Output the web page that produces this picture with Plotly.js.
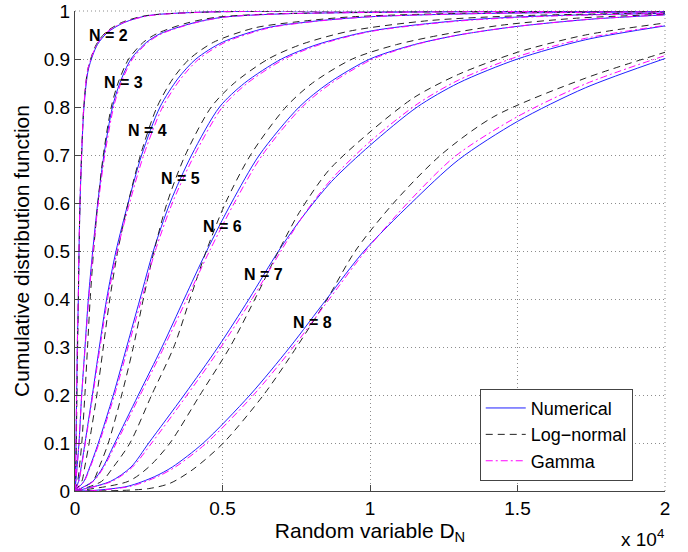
<!DOCTYPE html>
<html>
<head>
<meta charset="utf-8">
<script src="https://cdn.plot.ly/plotly-3.0.1.min.js"></script>
<style>html,body{margin:0;padding:0;background:#fff;}</style>
</head>
<body>
<div id="chart" style="width:688px;height:552px;"></div>
<script>
// ---- data: [x, F(x)] points per curve ----
const num2 = [[0,0],[20,0.05],[34,0.1],[56,0.2],[79,0.3],[113,0.4],[136,0.5],[170,0.6],[226,0.7],[305,0.8],[460,0.88],[760,0.93],[1100,0.955],[1630,0.975],[2430,0.99],[4000,0.997],[7000,1],[20000,1]];
const ln2  = [[0,0],[30,0.04],[45,0.1],[66,0.2],[88,0.3],[115,0.4],[138,0.5],[170,0.6],[222,0.7],[298,0.8],[440,0.88],[720,0.93],[1050,0.956],[1580,0.976],[2380,0.99],[4100,0.997],[8000,1],[20000,1]];
const gam2 = [[0,0],[18,0.05],[31,0.1],[53,0.2],[77,0.3],[110,0.4],[134,0.5],[168,0.6],[222,0.7],[298,0.8],[440,0.88],[740,0.93],[1080,0.956],[1650,0.976],[2500,0.99],[4100,0.997],[7000,1],[20000,1]];

const num3 = [[0,0],[30,0.02],[70,0.05],[136,0.1],[226,0.2],[339,0.3],[452,0.4],[600,0.5],[770,0.6],[980,0.7],[1270,0.8],[1520,0.85],[1900,0.9],[2430,0.935],[2900,0.953],[4000,0.975],[5000,0.987],[7000,0.994],[10000,0.997],[15000,0.999],[20000,1]];
const ln3  = [[0,0],[90,0.02],[150,0.05],[230,0.1],[335,0.2],[425,0.3],[515,0.4],[630,0.5],[775,0.6],[960,0.7],[1230,0.8],[1460,0.85],[1820,0.9],[2320,0.935],[2780,0.953],[3800,0.975],[4800,0.987],[6700,0.994],[9500,0.997],[14000,0.999],[20000,1]];
const gam3 = [[0,0],[28,0.02],[68,0.05],[134,0.1],[228,0.2],[345,0.3],[465,0.4],[615,0.5],[790,0.6],[1010,0.7],[1310,0.8],[1560,0.85],[1950,0.9],[2480,0.935],[2950,0.953],[4050,0.975],[5050,0.987],[7000,0.994],[10000,0.997],[15000,0.999],[20000,1]];

const num4 = [[0,0],[120,0.02],[210,0.05],[339,0.1],[588,0.2],[825,0.3],[1073,0.4],[1390,0.5],[1800,0.6],[2260,0.7],[2881,0.8],[3500,0.86],[4100,0.9],[5000,0.935],[6500,0.965],[8000,0.978],[10000,0.988],[14000,0.995],[20000,0.998]];
const ln4  = [[0,0],[230,0.02],[330,0.05],[480,0.1],[740,0.2],[960,0.3],[1180,0.4],[1450,0.5],[1800,0.6],[2220,0.7],[2780,0.8],[3330,0.86],[3880,0.9],[4700,0.935],[6100,0.965],[7600,0.978],[9400,0.988],[13000,0.995],[20000,0.999]];
const gam4 = [[0,0],[130,0.02],[220,0.05],[350,0.1],[605,0.2],[850,0.3],[1105,0.4],[1430,0.5],[1850,0.6],[2330,0.7],[2970,0.8],[3600,0.86],[4200,0.9],[5100,0.935],[6600,0.965],[8100,0.978],[10000,0.988],[14000,0.995],[20000,0.998]];

const num5 = [[0,0],[300,0.02],[500,0.05],[791,0.1],[1299,0.2],[1751,0.3],[2203,0.4],[2655,0.5],[3220,0.6],[3955,0.7],[4900,0.8],[5750,0.85],[7000,0.9],[8200,0.93],[10000,0.958],[13000,0.98],[16000,0.99],[20000,0.995]];
const ln5  = [[0,0],[600,0.02],[820,0.05],[1130,0.1],[1582,0.2],[1977,0.3],[2316,0.4],[2680,0.5],[3120,0.6],[3740,0.7],[4620,0.8],[5400,0.85],[6550,0.9],[7650,0.93],[9300,0.958],[12000,0.98],[15000,0.99],[20000,0.996]];
const gam5 = [[0,0],[310,0.02],[520,0.05],[820,0.1],[1340,0.2],[1800,0.3],[2260,0.4],[2720,0.5],[3300,0.6],[4050,0.7],[5000,0.8],[5850,0.85],[7100,0.9],[8300,0.93],[10000,0.957],[13000,0.979],[16000,0.989],[20000,0.995]];

const num6 = [[0,0],[600,0.02],[950,0.05],[1350,0.1],[2147,0.2],[2950,0.3],[3700,0.4],[4463,0.5],[5300,0.6],[6250,0.7],[7600,0.8],[8600,0.85],[10000,0.9],[11500,0.93],[13000,0.95],[15000,0.968],[17500,0.983],[20000,0.992]];
const ln6  = [[0,0],[900,0.02],[1300,0.05],[1864,0.1],[2599,0.2],[3350,0.3],[3898,0.4],[4450,0.5],[5100,0.6],[5950,0.7],[7150,0.8],[8050,0.85],[9400,0.9],[10900,0.93],[12400,0.95],[14400,0.97],[17000,0.985],[20000,0.993]];
const gam6 = [[0,0],[620,0.02],[980,0.05],[1400,0.1],[2210,0.2],[3020,0.3],[3790,0.4],[4560,0.5],[5400,0.6],[6350,0.7],[7700,0.8],[8700,0.85],[10100,0.9],[11550,0.93],[13000,0.95],[15000,0.968],[17500,0.983],[20000,0.992]];

const num7 = [[0,0],[1200,0.02],[1900,0.05],[2500,0.1],[3700,0.2],[4850,0.3],[5900,0.4],[6900,0.5],[7700,0.57],[8700,0.645],[10000,0.72],[11600,0.8],[13000,0.85],[15000,0.9],[17300,0.94],[20000,0.969]];
const ln7  = [[0,0],[1800,0.02],[2500,0.05],[3220,0.1],[4237,0.2],[5254,0.3],[6100,0.4],[6900,0.5],[7600,0.58],[8600,0.668],[10000,0.748],[11500,0.82],[13000,0.868],[15000,0.914],[17300,0.95],[20000,0.975]];
const gam7 = [[0,0],[1250,0.02],[1950,0.05],[2600,0.1],[3800,0.2],[4950,0.3],[6000,0.4],[6980,0.5],[7750,0.575],[8700,0.65],[10000,0.728],[11600,0.806],[13000,0.856],[15000,0.905],[17300,0.943],[20000,0.97]];

const num8 = [[0,0],[600,0.001],[1800,0.01],[2700,0.03],[3300,0.05],[4350,0.1],[5932,0.2],[7288,0.3],[8531,0.4],[9800,0.5],[11400,0.6],[13000,0.69],[15000,0.77],[17300,0.84],[20000,0.901]];
const ln8  = [[0,0],[1500,0.001],[2500,0.005],[3220,0.016],[4000,0.045],[5028,0.1],[6390,0.2],[7514,0.3],[8550,0.4],[9500,0.5],[10800,0.6],[12400,0.7],[14200,0.78],[17300,0.86],[20000,0.914]];
const gam8 = [[0,0],[700,0.001],[1900,0.01],[2800,0.03],[3400,0.05],[4460,0.1],[6050,0.2],[7400,0.3],[8620,0.4],[9850,0.5],[11350,0.605],[12900,0.698],[15000,0.78],[17300,0.848],[20000,0.907]];

const nValues = [2, 3, 4, 5, 6, 7, 8];
const numSeries = [num2, num3, num4, num5, num6, num7, num8];
const lnSeries  = [ln2, ln3, ln4, ln5, ln6, ln7, ln8];
const gamSeries = [gam2, gam3, gam4, gam5, gam6, gam7, gam8];
const seriesNames = ['Numerical', 'Log\u2212normal', 'Gamma'];

const xTickVals = [0, 5000, 10000, 15000, 20000];
const xTickText = ['0', '0.5', '1', '1.5', '2'];
const yTickVals = [0, 0.1, 0.2, 0.3, 0.4, 0.5, 0.6, 0.7, 0.8, 0.9, 1];
const yTickText = ['0', '0.1', '0.2', '0.3', '0.4', '0.5', '0.6', '0.7', '0.8', '0.9', '1'];

// ---- styling ----
const styles = [
  {color: '#2020ff', width: 1, dash: 'solid', shape: 'spline', smoothing: 0.8},
  {color: '#222222', width: 1, dash: '7px,5px', shape: 'spline', smoothing: 0.8},
  {color: '#ff00ff', width: 1, dash: '7px,3px,2px,3px', shape: 'spline', smoothing: 0.8}
];
const labelPos = [
  [1119, 0.95], [1627, 0.851], [2458, 0.752], [3576, 0.651],
  [4983, 0.551], [6390, 0.451], [8051, 0.352]
];
const gridColor = '#8c8c8c';

const traces = [];
nValues.forEach((n, i) => {
  [numSeries[i], lnSeries[i], gamSeries[i]].forEach((arr, k) => {
    traces.push({
      type: 'scatter', mode: 'lines',
      x: arr.map(p => p[0]), y: arr.map(p => p[1]),
      name: seriesNames[k],
      showlegend: i === 0,
      line: styles[k],
      hoverinfo: 'skip'
    });
  });
});

const annotations = nValues.map((n, i) => ({
  x: labelPos[i][0], y: labelPos[i][1], xref: 'x', yref: 'y',
  text: '<b>N = ' + n + '</b>', showarrow: false,
  font: {size: 16, color: '#000'}, xanchor: 'center', yanchor: 'middle'
}));
annotations.push({
  xref: 'paper', yref: 'paper', x: 0.962, y: -0.098,
  text: 'x 10<sup>4</sup>', showarrow: false,
  font: {size: 19, color: '#000'}, xanchor: 'center', yanchor: 'middle'
});

// dotted grid lines along the top and right edges (as in the reference)
const shapes = [
  {type: 'line', xref: 'paper', yref: 'paper', x0: 0, x1: 1, y0: 1, y1: 1,
   line: {color: gridColor, width: 1, dash: '1px,3px'}, layer: 'below'},
  {type: 'line', xref: 'paper', yref: 'paper', x0: 1, x1: 1, y0: 0, y1: 1,
   line: {color: gridColor, width: 1, dash: '1px,3px'}, layer: 'below'}
];

const axisCommon = {
  ticks: 'inside', ticklen: 6, tickcolor: '#444', tickwidth: 1,
  showline: true, linecolor: '#444', linewidth: 1,
  showgrid: true, gridcolor: gridColor, griddash: '1px,3px', gridwidth: 1,
  zeroline: false, automargin: false, fixedrange: true,
  ticklabeloverflow: 'allow',
  tickfont: {size: 19, color: '#000'}
};

const layout = {
  width: 688, height: 552,
  margin: {l: 75, r: 23, t: 11, b: 61},
  paper_bgcolor: '#fff', plot_bgcolor: '#fff',
  font: {family: 'Liberation Sans, Arial, Helvetica, sans-serif', size: 19, color: '#000'},
  xaxis: Object.assign({}, axisCommon, {
    range: [0, 20000], tickmode: 'array', tickvals: xTickVals, ticktext: xTickText,
    title: {text: 'Random variable D<sub>N</sub>', font: {size: 21}, standoff: 3}
  }),
  yaxis: Object.assign({}, axisCommon, {
    range: [0, 1], tickmode: 'array', tickvals: yTickVals, ticktext: yTickText,
    title: {text: 'Cumulative distribution function', font: {size: 21}, standoff: 8}
  }),
  legend: {
    x: 0.686, y: 0.213, xanchor: 'left', yanchor: 'top',
    bgcolor: '#fff', bordercolor: '#444', borderwidth: 1,
    font: {size: 18, color: '#000'}, itemwidth: 40
  },
  annotations: annotations,
  shapes: shapes,
  showlegend: true
};

Plotly.newPlot('chart', traces, layout, {displayModeBar: false, staticPlot: true});
</script>
</body>
</html>
